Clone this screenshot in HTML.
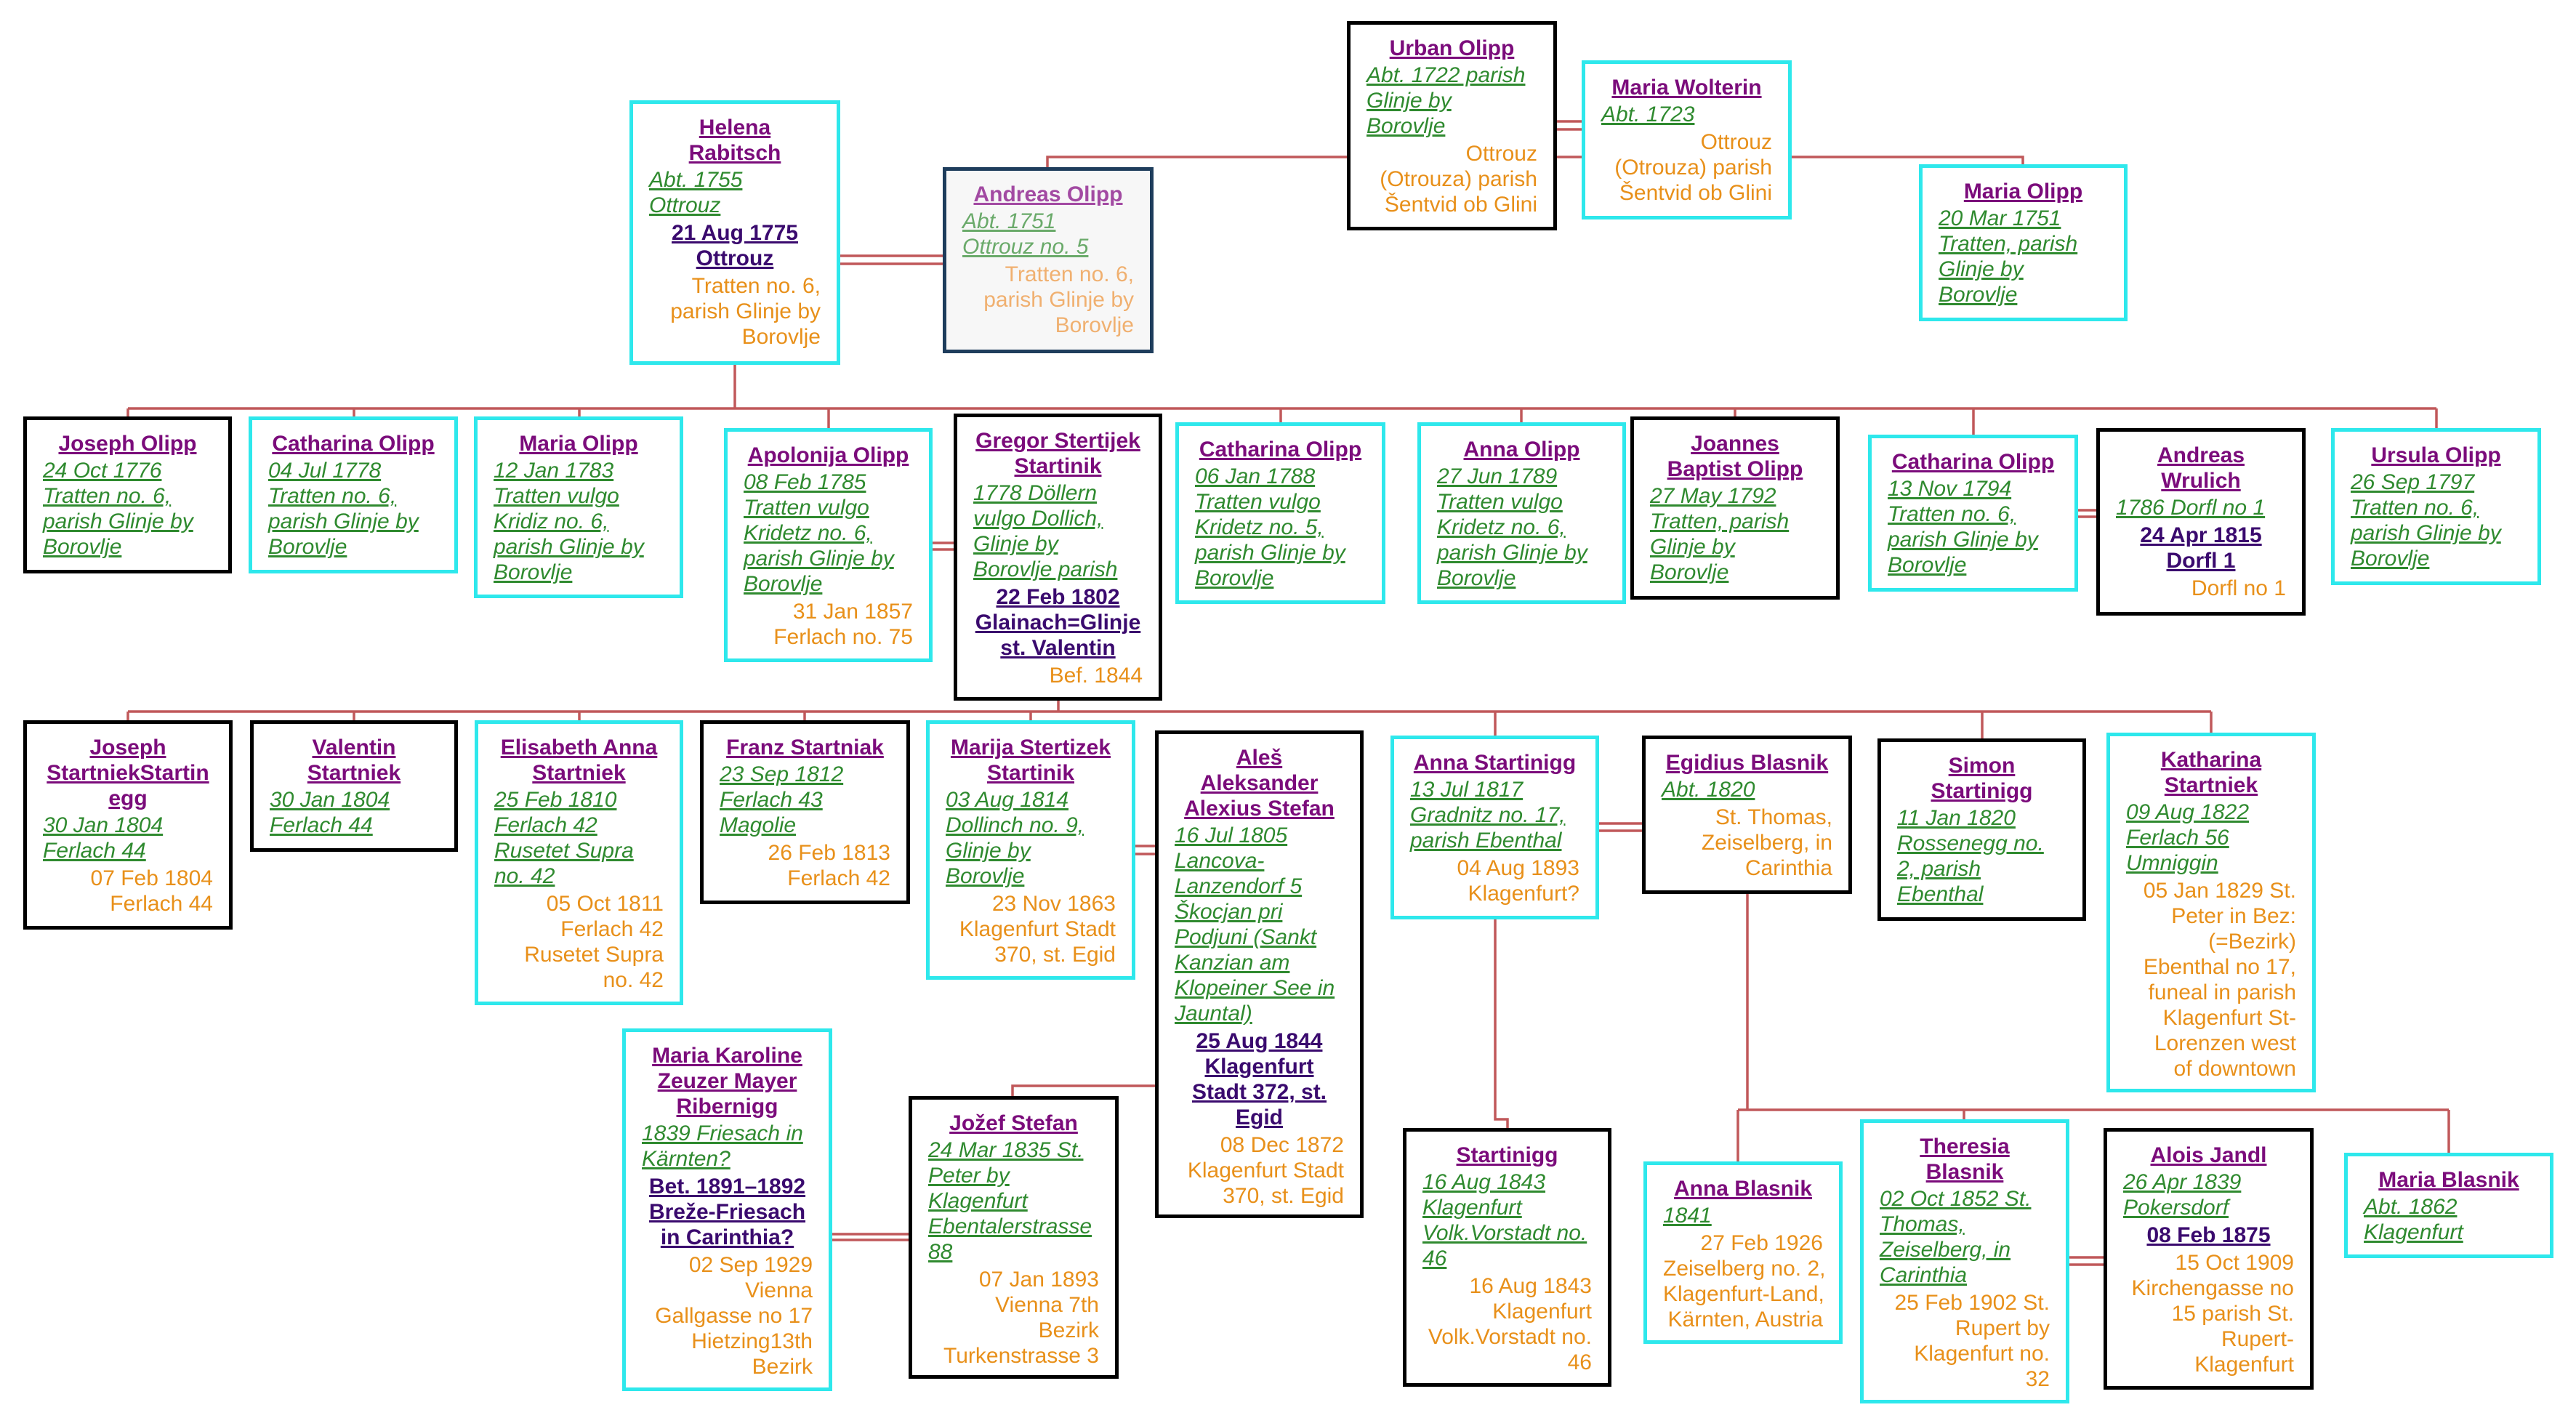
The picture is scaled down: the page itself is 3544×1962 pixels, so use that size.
<!DOCTYPE html>
<html><head><meta charset="utf-8">
<style>
html,body{margin:0;padding:0;background:#fff;}
body{width:3544px;height:1962px;position:relative;overflow:hidden;font-family:"Liberation Sans",Arial,sans-serif;font-size:30px;line-height:35px;}
.b{position:absolute;box-sizing:border-box;border:5px solid #000;background:#fff;padding:15px 22px 10px 22px;}
.c{border-color:#2ee8ec;}
.n{text-align:center;font-weight:bold;color:#7b0c7b;}
.g{text-align:left;font-style:italic;color:#2f8a2f;margin-top:2px;}
.m{text-align:center;font-weight:bold;color:#3a0a6e;margin-top:3px;}
.d{text-align:right;color:#e8901a;margin-top:3px;}
.b div div{white-space:nowrap;}
.n div span,.g div span,.m div span{text-decoration:underline;}
svg{position:absolute;left:0;top:0;}
.f .n{color:#a24aa2}.f .g{color:#6aaa6a}.f .d{color:#f0b070}
</style></head><body>
<svg width="3544" height="1962" viewBox="0 0 3544 1962">
<g stroke="#c0585a" stroke-width="3.5" fill="none">
<path d="M1441,230V216H2783V226"/>
<path d="M2142,167H2176M2142,178H2176"/>
<path d="M1156,352H1297M1156,363H1297" />
<path d="M1011,502V562M176,562H3352"/>
<path d="M176,562V573M487,562V573M797,562V573M1140,562V589M1762,562V581M2093,562V581M2387,562V573M2715,562V598M3352,562V589"/>
<path d="M1283,747H1312M1283,756H1312"/>
<path d="M2859,702H2884M2859,711H2884"/>
<path d="M1456,964V979M176,979H3042"/>
<path d="M176,979V991M487,979V991M797,979V991M1107,979V991M1418,979V991M2057,979V1012M2727,979V1016M3042,979V1008"/>
<path d="M1562,1164H1589M1562,1175H1589"/>
<path d="M2200,1133H2259M2200,1143H2259"/>
<path d="M1589,1494H1393V1508"/>
<path d="M1145,1698H1250M1145,1706H1250"/>
<path d="M2057,1265V1540H2074V1552"/>
<path d="M2404,1230V1527M2391,1527H3369M2391,1527V1598M2702,1527V1540M3369,1527V1586"/>
<path d="M2847,1730H2894M2847,1740H2894"/>
</g></svg>

<!-- top -->
<div class="b" style="left:1853px;top:29px;width:289px;height:288px;"><div class="n"><div><span>Urban Olipp</span></div></div><div class="g"><div><span>Abt. 1722 parish</span></div><div><span>Glinje by</span></div><div><span>Borovlje</span></div></div><div class="d"><div>Ottrouz</div><div>(Otrouza) parish</div><div>Šentvid ob Glini</div></div></div>
<div class="b c" style="left:2176px;top:83px;width:289px;height:219px;"><div class="n"><div><span>Maria Wolterin</span></div></div><div class="g"><div><span>Abt. 1723</span></div></div><div class="d"><div>Ottrouz</div><div>(Otrouza) parish</div><div>Šentvid ob Glini</div></div></div>
<div class="b c" style="left:2640px;top:226px;width:287px;height:216px;"><div class="n"><div><span>Maria Olipp</span></div></div><div class="g"><div><span>20 Mar 1751</span></div><div><span>Tratten, parish</span></div><div><span>Glinje by</span></div><div><span>Borovlje</span></div></div></div>
<div class="b c" style="left:866px;top:138px;width:290px;height:364px;"><div class="n"><div><span>Helena</span></div><div><span>Rabitsch</span></div></div><div class="g"><div><span>Abt. 1755</span></div><div><span>Ottrouz</span></div></div><div class="m"><div><span>21 Aug 1775</span></div><div><span>Ottrouz</span></div></div><div class="d"><div>Tratten no. 6,</div><div>parish Glinje by</div><div>Borovlje</div></div></div>
<div class="b f" style="left:1297px;top:230px;width:290px;height:256px;border-color:#1e3d5c;background:#f7f7f7;"><div class="n"><div><span>Andreas Olipp</span></div></div><div class="g"><div><span>Abt. 1751</span></div><div><span>Ottrouz no. 5</span></div></div><div class="d"><div>Tratten no. 6,</div><div>parish Glinje by</div><div>Borovlje</div></div></div>

<!-- row1 -->
<div class="b" style="left:32px;top:573px;width:287px;height:216px;"><div class="n"><div><span>Joseph Olipp</span></div></div><div class="g"><div><span>24 Oct 1776</span></div><div><span>Tratten no. 6,</span></div><div><span>parish Glinje by</span></div><div><span>Borovlje</span></div></div></div>
<div class="b c" style="left:342px;top:573px;width:288px;height:216px;"><div class="n"><div><span>Catharina Olipp</span></div></div><div class="g"><div><span>04 Jul 1778</span></div><div><span>Tratten no. 6,</span></div><div><span>parish Glinje by</span></div><div><span>Borovlje</span></div></div></div>
<div class="b c" style="left:652px;top:573px;width:288px;height:250px;"><div class="n"><div><span>Maria Olipp</span></div></div><div class="g"><div><span>12 Jan 1783</span></div><div><span>Tratten vulgo</span></div><div><span>Kridiz no. 6,</span></div><div><span>parish Glinje by</span></div><div><span>Borovlje</span></div></div></div>
<div class="b c" style="left:996px;top:589px;width:287px;height:322px;"><div class="n"><div><span>Apolonija Olipp</span></div></div><div class="g"><div><span>08 Feb 1785</span></div><div><span>Tratten vulgo</span></div><div><span>Kridetz no. 6,</span></div><div><span>parish Glinje by</span></div><div><span>Borovlje</span></div></div><div class="d"><div>31 Jan 1857</div><div>Ferlach no. 75</div></div></div>
<div class="b" style="left:1312px;top:569px;width:287px;height:395px;"><div class="n"><div><span>Gregor Stertijek</span></div><div><span>Startinik</span></div></div><div class="g"><div><span>1778 Döllern</span></div><div><span>vulgo Dollich,</span></div><div><span>Glinje by</span></div><div><span>Borovlje parish</span></div></div><div class="m"><div><span>22 Feb 1802</span></div><div><span>Glainach=Glinje</span></div><div><span>st. Valentin</span></div></div><div class="d"><div>Bef. 1844</div></div></div>
<div class="b c" style="left:1617px;top:581px;width:289px;height:250px;"><div class="n"><div><span>Catharina Olipp</span></div></div><div class="g"><div><span>06 Jan 1788</span></div><div><span>Tratten vulgo</span></div><div><span>Kridetz no. 5,</span></div><div><span>parish Glinje by</span></div><div><span>Borovlje</span></div></div></div>
<div class="b c" style="left:1950px;top:581px;width:287px;height:250px;"><div class="n"><div><span>Anna Olipp</span></div></div><div class="g"><div><span>27 Jun 1789</span></div><div><span>Tratten vulgo</span></div><div><span>Kridetz no. 6,</span></div><div><span>parish Glinje by</span></div><div><span>Borovlje</span></div></div></div>
<div class="b" style="left:2243px;top:573px;width:288px;height:252px;"><div class="n"><div><span>Joannes</span></div><div><span>Baptist Olipp</span></div></div><div class="g"><div><span>27 May 1792</span></div><div><span>Tratten, parish</span></div><div><span>Glinje by</span></div><div><span>Borovlje</span></div></div></div>
<div class="b c" style="left:2570px;top:598px;width:289px;height:216px;"><div class="n"><div><span>Catharina Olipp</span></div></div><div class="g"><div><span>13 Nov 1794</span></div><div><span>Tratten no. 6,</span></div><div><span>parish Glinje by</span></div><div><span>Borovlje</span></div></div></div>
<div class="b" style="left:2884px;top:589px;width:288px;height:258px;"><div class="n"><div><span>Andreas</span></div><div><span>Wrulich</span></div></div><div class="g"><div><span>1786 Dorfl no 1</span></div></div><div class="m"><div><span>24 Apr 1815</span></div><div><span>Dorfl 1</span></div></div><div class="d"><div>Dorfl no 1</div></div></div>
<div class="b c" style="left:3207px;top:589px;width:289px;height:216px;"><div class="n"><div><span>Ursula Olipp</span></div></div><div class="g"><div><span>26 Sep 1797</span></div><div><span>Tratten no. 6,</span></div><div><span>parish Glinje by</span></div><div><span>Borovlje</span></div></div></div>

<!-- row2 -->
<div class="b" style="left:32px;top:991px;width:288px;height:288px;"><div class="n"><div><span>Joseph</span></div><div><span>StartniekStartin</span></div><div><span>egg</span></div></div><div class="g"><div><span>30 Jan 1804</span></div><div><span>Ferlach 44</span></div></div><div class="d"><div>07 Feb 1804</div><div>Ferlach 44</div></div></div>
<div class="b" style="left:344px;top:991px;width:286px;height:181px;"><div class="n"><div><span>Valentin</span></div><div><span>Startniek</span></div></div><div class="g"><div><span>30 Jan 1804</span></div><div><span>Ferlach 44</span></div></div></div>
<div class="b c" style="left:653px;top:991px;width:287px;height:392px;"><div class="n"><div><span>Elisabeth Anna</span></div><div><span>Startniek</span></div></div><div class="g"><div><span>25 Feb 1810</span></div><div><span>Ferlach 42</span></div><div><span>Rusetet Supra</span></div><div><span>no. 42</span></div></div><div class="d"><div>05 Oct 1811</div><div>Ferlach 42</div><div>Rusetet Supra</div><div>no. 42</div></div></div>
<div class="b" style="left:963px;top:991px;width:289px;height:253px;"><div class="n"><div><span>Franz Startniak</span></div></div><div class="g"><div><span>23 Sep 1812</span></div><div><span>Ferlach 43</span></div><div><span>Magolie</span></div></div><div class="d"><div>26 Feb 1813</div><div>Ferlach 42</div></div></div>
<div class="b c" style="left:1274px;top:991px;width:288px;height:357px;"><div class="n"><div><span>Marija Stertizek</span></div><div><span>Startinik</span></div></div><div class="g"><div><span>03 Aug 1814</span></div><div><span>Dollinch no. 9,</span></div><div><span>Glinje by</span></div><div><span>Borovlje</span></div></div><div class="d"><div>23 Nov 1863</div><div>Klagenfurt Stadt</div><div>370, st. Egid</div></div></div>
<div class="b" style="left:1589px;top:1005px;width:287px;height:671px;"><div class="n"><div><span>Aleš</span></div><div><span>Aleksander</span></div><div><span>Alexius Stefan</span></div></div><div class="g"><div><span>16 Jul 1805</span></div><div><span>Lancova-</span></div><div><span>Lanzendorf 5</span></div><div><span>Škocjan pri</span></div><div><span>Podjuni (Sankt</span></div><div><span>Kanzian am</span></div><div><span>Klopeiner See in</span></div><div><span>Jauntal)</span></div></div><div class="m"><div><span>25 Aug 1844</span></div><div><span>Klagenfurt</span></div><div><span>Stadt 372, st.</span></div><div><span>Egid</span></div></div><div class="d"><div>08 Dec 1872</div><div>Klagenfurt Stadt</div><div>370, st. Egid</div></div></div>
<div class="b c" style="left:1913px;top:1012px;width:287px;height:253px;"><div class="n"><div><span>Anna Startinigg</span></div></div><div class="g"><div><span>13 Jul 1817</span></div><div><span>Gradnitz no. 17,</span></div><div><span>parish Ebenthal</span></div></div><div class="d"><div>04 Aug 1893</div><div>Klagenfurt?</div></div></div>
<div class="b" style="left:2259px;top:1012px;width:289px;height:218px;"><div class="n"><div><span>Egidius Blasnik</span></div></div><div class="g"><div><span>Abt. 1820</span></div></div><div class="d"><div>St. Thomas,</div><div>Zeiselberg, in</div><div>Carinthia</div></div></div>
<div class="b" style="left:2583px;top:1016px;width:287px;height:251px;"><div class="n"><div><span>Simon</span></div><div><span>Startinigg</span></div></div><div class="g"><div><span>11 Jan 1820</span></div><div><span>Rossenegg no.</span></div><div><span>2, parish</span></div><div><span>Ebenthal</span></div></div></div>
<div class="b c" style="left:2898px;top:1008px;width:288px;height:495px;"><div class="n"><div><span>Katharina</span></div><div><span>Startniek</span></div></div><div class="g"><div><span>09 Aug 1822</span></div><div><span>Ferlach 56</span></div><div><span>Umniggin</span></div></div><div class="d"><div>05 Jan 1829 St.</div><div>Peter in Bez:</div><div>(=Bezirk)</div><div>Ebenthal no 17,</div><div>funeal in parish</div><div>Klagenfurt St-</div><div>Lorenzen west</div><div>of downtown</div></div></div>

<!-- row3 -->
<div class="b c" style="left:856px;top:1415px;width:289px;height:499px;"><div class="n"><div><span>Maria Karoline</span></div><div><span>Zeuzer Mayer</span></div><div><span>Ribernigg</span></div></div><div class="g"><div><span>1839 Friesach in</span></div><div><span>Kärnten?</span></div></div><div class="m"><div><span>Bet. 1891–1892</span></div><div><span>Breže-Friesach</span></div><div><span>in Carinthia?</span></div></div><div class="d"><div>02 Sep 1929</div><div>Vienna</div><div>Gallgasse no 17</div><div>Hietzing13th</div><div>Bezirk</div></div></div>
<div class="b" style="left:1250px;top:1508px;width:289px;height:389px;"><div class="n"><div><span>Jožef Stefan</span></div></div><div class="g"><div><span>24 Mar 1835 St.</span></div><div><span>Peter by</span></div><div><span>Klagenfurt</span></div><div><span>Ebentalerstrasse</span></div><div><span>88</span></div></div><div class="d"><div>07 Jan 1893</div><div>Vienna 7th</div><div>Bezirk</div><div>Turkenstrasse 3</div></div></div>
<div class="b" style="left:1930px;top:1552px;width:287px;height:356px;"><div class="n"><div><span>Startinigg</span></div></div><div class="g"><div><span>16 Aug 1843</span></div><div><span>Klagenfurt</span></div><div><span>Volk.Vorstadt no.</span></div><div><span>46</span></div></div><div class="d"><div>16 Aug 1843</div><div>Klagenfurt</div><div>Volk.Vorstadt no.</div><div>46</div></div></div>
<div class="b c" style="left:2261px;top:1598px;width:274px;height:251px;"><div class="n"><div><span>Anna Blasnik</span></div></div><div class="g"><div><span>1841</span></div></div><div class="d"><div>27 Feb 1926</div><div>Zeiselberg no. 2,</div><div>Klagenfurt-Land,</div><div>Kärnten, Austria</div></div></div>
<div class="b c" style="left:2559px;top:1540px;width:288px;height:391px;"><div class="n"><div><span>Theresia</span></div><div><span>Blasnik</span></div></div><div class="g"><div><span>02 Oct 1852 St.</span></div><div><span>Thomas,</span></div><div><span>Zeiselberg, in</span></div><div><span>Carinthia</span></div></div><div class="d"><div>25 Feb 1902 St.</div><div>Rupert by</div><div>Klagenfurt no.</div><div>32</div></div></div>
<div class="b" style="left:2894px;top:1552px;width:289px;height:360px;"><div class="n"><div><span>Alois Jandl</span></div></div><div class="g"><div><span>26 Apr 1839</span></div><div><span>Pokersdorf</span></div></div><div class="m"><div><span>08 Feb 1875</span></div></div><div class="d"><div>15 Oct 1909</div><div>Kirchengasse no</div><div>15 parish St.</div><div>Rupert-</div><div>Klagenfurt</div></div></div>
<div class="b c" style="left:3225px;top:1586px;width:288px;height:145px;"><div class="n"><div><span>Maria Blasnik</span></div></div><div class="g"><div><span>Abt. 1862</span></div><div><span>Klagenfurt</span></div></div></div>
</body></html>
